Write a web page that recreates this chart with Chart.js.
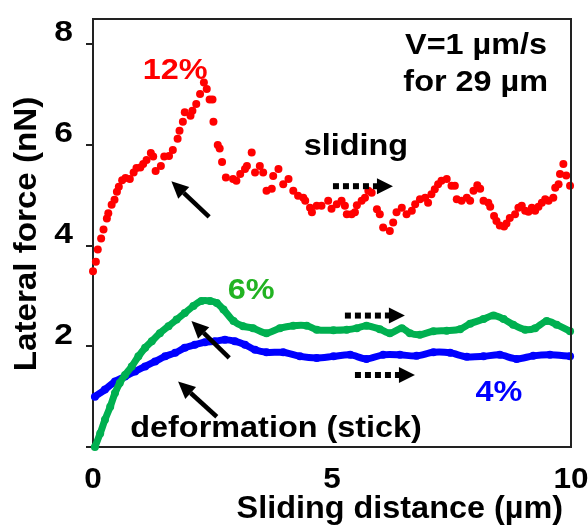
<!DOCTYPE html>
<html>
<head>
<meta charset="utf-8">
<script src="https://cdn.jsdelivr.net/npm/chart.js@4.4.1/dist/chart.umd.min.js"></script>
<style>
  html, body { margin: 0; padding: 0; background: #fff; }
  canvas { display: block; }
</style>
</head>
<body>
<canvas id="chart" width="588" height="527"></canvas>
<script>
  "use strict";

  // 12% series (red dots)
  const redX = [
    0, 0.06, 0.1, 0.17, 0.22, 0.29, 0.32, 0.39, 0.45, 0.5,
    0.54, 0.61, 0.68, 0.77, 0.85, 0.91, 0.99, 1.05, 1.12, 1.21,
    1.26, 1.31, 1.42, 1.49, 1.59, 1.67, 1.77, 1.81, 1.88, 1.92,
    2.04, 2.08, 2.16, 2.24, 2.32, 2.38, 2.44, 2.5, 2.52, 2.61,
    2.65, 2.7, 2.78,
    2.93, 3.0, 3.08, 3.18, 3.22, 3.32, 3.39, 3.49, 3.56, 3.63,
    3.74, 3.77, 3.88, 3.98, 4.09, 4.19, 4.29, 4.4, 4.44, 4.54,
    4.58, 4.68, 4.78, 4.92, 4.99, 5.1, 5.2, 5.27, 5.31, 5.41,
    5.48, 5.52, 5.62, 5.69, 5.76, 5.83, 5.94, 6.0, 6.07, 6.21,
    6.28, 6.35, 6.46,
    6.56, 6.67, 6.74, 6.84, 6.95, 7.01, 7.08, 7.15, 7.22, 7.29,
    7.4, 7.5, 7.57, 7.61, 7.71, 7.82, 7.89, 7.96, 8.04, 8.1,
    8.17, 8.27, 8.31, 8.39, 8.44, 8.51, 8.6, 8.65, 8.72, 8.83,
    8.9, 8.97, 9.04, 9.11, 9.18, 9.25, 9.32, 9.39, 9.46, 9.53,
    9.63, 9.67, 9.74, 9.77, 9.84, 9.9, 9.98
  ];
  const redY = [
    3.49, 3.68, 3.92, 4.14, 4.32, 4.54, 4.64, 4.81, 4.91, 5.07,
    5.17, 5.3, 5.34, 5.32, 5.45, 5.54, 5.55, 5.62, 5.7, 5.84,
    5.77, 5.48, 5.58, 5.77, 5.78, 5.9, 6.12, 6.28, 6.46, 6.65,
    6.58, 6.68, 6.81, 7.01, 7.24, 7.11, 6.9, 6.9, 6.46, 6.0,
    5.93, 5.66, 5.35,
    5.32, 5.29, 5.42, 5.52, 5.58, 5.85, 5.45, 5.58, 5.45, 5.09,
    5.13, 5.38, 5.52, 5.22, 5.32, 5.09, 4.99, 4.95, 4.89, 4.75,
    4.66, 4.79, 4.79, 4.89, 4.73, 4.82, 4.89, 4.79, 4.62, 4.62,
    4.66, 4.8, 4.89, 4.95, 5.09, 5.05, 4.72, 4.62, 4.36, 4.29,
    4.46, 4.66, 4.75,
    4.62, 4.69, 4.82, 4.92, 4.95, 4.85, 5.02, 5.12, 5.22, 5.29,
    5.32, 5.19, 5.19, 4.92, 4.89, 4.95, 4.89, 5.09, 5.2, 5.13,
    4.89, 4.85, 4.77, 4.59, 4.49, 4.4, 4.38, 4.44, 4.55, 4.62,
    4.75, 4.79, 4.69, 4.67, 4.75, 4.69, 4.77, 4.85, 4.92, 4.89,
    4.95, 5.15, 5.22, 5.42, 5.62, 5.39, 5.19
  ];

  // 6% series (green)
  const greenX = [
    0.04, 0.15, 0.25, 0.36, 0.46, 0.56, 0.67, 0.81, 0.95, 1.09,
    1.23, 1.4, 1.58, 1.75, 1.92, 2.1, 2.27, 2.45, 2.59, 2.73,
    2.94, 3.14, 3.35, 3.63, 3.91, 4.19, 4.47, 4.68, 5.03, 5.31,
    5.52, 5.72, 6.0, 6.21, 6.46, 6.63, 6.84, 7.12, 7.4, 7.68,
    7.89, 8.17, 8.38, 8.59, 8.79, 9.04, 9.25, 9.49, 9.7, 9.98
  ];
  const greenY = [
    0.0, 0.27, 0.54, 0.8, 1.07, 1.27, 1.43, 1.6, 1.8, 1.97,
    2.1, 2.26, 2.4, 2.53, 2.66, 2.8, 2.9, 2.9, 2.86, 2.73,
    2.5, 2.4, 2.36, 2.26, 2.36, 2.41, 2.41, 2.33, 2.32, 2.33,
    2.36, 2.41, 2.34, 2.26, 2.36, 2.26, 2.23, 2.3, 2.31, 2.34,
    2.45, 2.54, 2.61, 2.54, 2.43, 2.33, 2.36, 2.5, 2.43, 2.3
  ];

  // 4% series (blue)
  const blueX = [
    0.04, 0.25, 0.46, 0.67, 0.88, 1.09, 1.3, 1.51, 1.72, 1.92,
    2.13, 2.34, 2.55, 2.76, 2.97, 3.18, 3.39, 3.63, 3.98, 4.33,
    4.68, 5.03, 5.38, 5.72, 6.07, 6.42, 6.77, 7.12, 7.47, 7.82,
    8.17, 8.51, 8.86, 9.21, 9.56, 9.98
  ];
  const blueY = [
    1.0, 1.14, 1.3, 1.4, 1.5, 1.6, 1.7, 1.8, 1.87, 1.97,
    2.03, 2.08, 2.1, 2.13, 2.1, 2.03, 1.93, 1.88, 1.88, 1.8,
    1.77, 1.8, 1.83, 1.75, 1.83, 1.83, 1.81, 1.88, 1.87, 1.79,
    1.8, 1.83, 1.75, 1.81, 1.83, 1.8
  ];

  const xTicks = [0, 5, 10];
  const yTicks = [0, 2, 4, 6, 8];

  const FONT = '"Liberation Sans", Arial, sans-serif';
  const AXIS = "#222";

  const pairs = (xs, ys) => xs.map((x, i) => ({ x, y: ys[i] }));

  // bold text, stretched a little sideways like the source figure
  function text(ctx, str, x, y, size, color, align, sx) {
    ctx.save();
    ctx.translate(x, y);
    ctx.scale(sx || 1.08, 1);
    ctx.font = `bold ${size}px ${FONT}`;
    ctx.fillStyle = color;
    ctx.textAlign = align || "center";
    ctx.textBaseline = "middle";
    ctx.fillText(str, 0, 0);
    ctx.restore();
  }

  function solidArrow(ctx, x1, y1, x2, y2) {
    const ang = Math.atan2(y2 - y1, x2 - x1);
    const len = 17, half = 8;
    const bx = x2 - len * Math.cos(ang), by = y2 - len * Math.sin(ang);
    ctx.strokeStyle = "#000";
    ctx.lineWidth = 4.5;
    ctx.lineCap = "butt";
    ctx.beginPath();
    ctx.moveTo(x1, y1);
    ctx.lineTo(bx, by);
    ctx.stroke();
    ctx.fillStyle = "#000";
    ctx.beginPath();
    ctx.moveTo(x2, y2);
    ctx.lineTo(bx + half * Math.sin(ang), by - half * Math.cos(ang));
    ctx.lineTo(bx - half * Math.sin(ang), by + half * Math.cos(ang));
    ctx.closePath();
    ctx.fill();
  }

  function dottedArrow(ctx, x0, y0) {
    ctx.fillStyle = "#000";
    for (let i = 0; i < 4; i++) ctx.fillRect(x0 + i * 10, y0 - 3, 6, 6);
    ctx.beginPath();
    ctx.moveTo(x0 + 40, y0 - 3);
    ctx.lineTo(x0 + 44, y0 - 3);
    ctx.lineTo(x0 + 44, y0 - 8);
    ctx.lineTo(x0 + 60, y0);
    ctx.lineTo(x0 + 44, y0 + 8);
    ctx.lineTo(x0 + 44, y0 + 3);
    ctx.lineTo(x0 + 40, y0 + 3);
    ctx.closePath();
    ctx.fill();
  }

  const overlay = {
    id: "overlay",
    afterDraw(chart) {
      const { ctx, chartArea: a, scales: { x, y } } = chart;
      const px = (v) => x.getPixelForValue(v);
      const py = (v) => y.getPixelForValue(v);
      ctx.save();

      // top and right frame
      ctx.strokeStyle = AXIS;
      ctx.lineWidth = 2;
      ctx.beginPath();
      ctx.moveTo(a.left, a.top);
      ctx.lineTo(a.right, a.top);
      ctx.lineTo(a.right, a.bottom);
      ctx.stroke();

      // tick labels
      y.ticks.forEach((t) => {
        if (t.value > 0) text(ctx, String(t.value), 73, py(t.value) - 11, 30, "#000", "right", 1.12);
      });
      x.ticks.forEach((t) => {
        text(ctx, String(t.value), px(t.value), 480, 30, "#000", "center", 1.05);
      });

      // axis titles
      text(ctx, "Sliding distance (\u00b5m)", 563, 509, 31, "#000", "right", 1.045);
      ctx.save();
      ctx.translate(27, 234);
      ctx.rotate(-Math.PI / 2);
      text(ctx, "Lateral force (nN)", 0, 0, 31, "#000", "center", 1.07);
      ctx.restore();

      // annotations
      text(ctx, "12%", px(1.72), py(7.47), 30, "#ff0000");
      text(ctx, "6%", px(3.31), py(3.11), 30, "#22b322");
      text(ctx, "4%", px(8.49), py(1.08), 30, "#0000ff");
      text(ctx, "sliding", px(5.5), py(5.96), 30, "#000");
      text(ctx, "V=1 \u00b5m/s", px(9.5), py(7.97), 30, "#000", "right");
      text(ctx, "for 29 \u00b5m", px(9.52), py(7.23), 30, "#000", "right");
      text(ctx, "deformation (stick)", px(3.83), py(0.36), 30, "#000");

      solidArrow(ctx, px(2.43), py(4.57), px(1.64), py(5.28));
      solidArrow(ctx, px(2.85), py(1.77), px(2.06), py(2.5));
      solidArrow(ctx, px(2.59), py(0.6), px(1.78), py(1.3));

      dottedArrow(ctx, px(5.02), py(5.18));
      dottedArrow(ctx, px(5.27), py(2.61));
      dottedArrow(ctx, px(5.48), py(1.43));

      ctx.restore();
    }
  };

  new Chart(document.getElementById("chart"), {
    type: "scatter",
    data: {
      datasets: [
        {
          label: "12%",
          data: pairs(redX, redY),
          backgroundColor: "#ff0000",
          borderColor: "#ff0000",
          pointRadius: 4,
          pointBorderWidth: 0,
          order: 2
        },
        {
          label: "4%",
          data: pairs(blueX, blueY),
          showLine: true,
          borderColor: "#0000ff",
          backgroundColor: "#0000ff",
          borderWidth: 7,
          tension: 0.3,
          pointRadius: 4,
          pointBorderWidth: 0,
          order: 1
        },
        {
          label: "6%",
          data: pairs(greenX, greenY),
          showLine: true,
          borderColor: "#00b050",
          backgroundColor: "#00b050",
          borderWidth: 7,
          tension: 0.3,
          pointRadius: 4,
          pointBorderWidth: 0,
          order: 0
        }
      ]
    },
    options: {
      responsive: false,
      animation: false,
      clip: false,
      layout: { padding: { top: 19, right: 17, left: 0, bottom: 0 } },
      plugins: {
        legend: { display: false },
        tooltip: { enabled: false }
      },
      scales: {
        x: {
          type: "linear",
          min: 0,
          max: 10,
          afterBuildTicks: (s) => { s.ticks = xTicks.map((v) => ({ value: v })); },
          ticks: { display: false },
          grid: { display: false },
          border: { color: AXIS, width: 2 },
          afterFit: (s) => { s.height = 80; }
        },
        y: {
          type: "linear",
          min: 0,
          max: 8.5,
          afterBuildTicks: (s) => { s.ticks = yTicks.map((v) => ({ value: v })); },
          ticks: { display: false },
          grid: { drawOnChartArea: false, tickLength: 7, color: AXIS, lineWidth: 2 },
          border: { color: AXIS, width: 2 },
          afterFit: (s) => { s.width = 93; }
        }
      }
    },
    plugins: [overlay]
  });
</script>
</body>
</html>
